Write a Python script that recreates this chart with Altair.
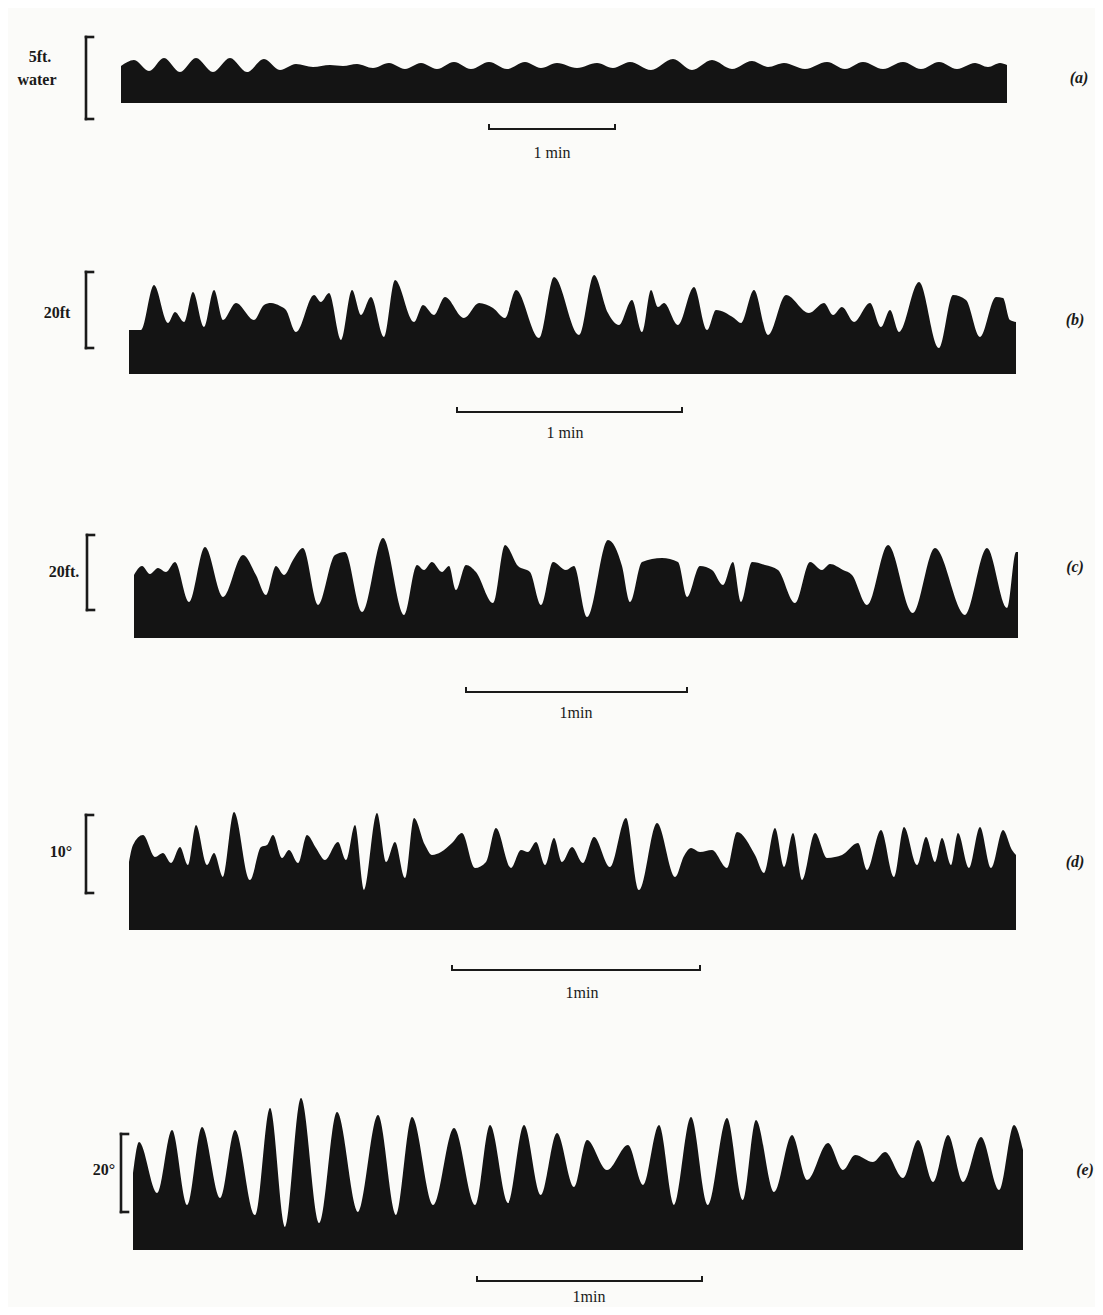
import altair as alt
import pandas as pd

# ---- waveform records (position along record, upper edge of trace) ----
A_X = [121, 134, 149, 164, 180, 196, 213, 230, 247, 264, 280, 296, 313, 330, 343, 357, 373, 389, 405, 421, 437,
       454, 471, 489, 507, 525, 541, 557, 577, 597, 613, 630, 651, 673, 692, 712, 732, 752, 768, 784, 805, 827,
       845, 863, 883, 903, 921, 939, 957, 975, 988, 1000, 1007]
A_TOP = [66, 60, 71, 58, 72, 58, 72, 58, 72, 59, 70, 64, 67, 65, 66, 64, 68, 63, 69, 63, 69,
         62, 69, 62, 69, 62, 68, 63, 68, 63, 68, 62, 70, 59, 70, 60, 69, 61, 67, 63, 69, 62,
         69, 62, 69, 62, 69, 62, 69, 63, 67, 63, 65]
A_BASE = 103

B_X = [129, 141, 154, 168, 175, 184, 193, 204, 214, 223, 236, 254, 264, 271, 280, 286, 296, 314, 321, 329, 341,
       352, 361, 371, 384, 395, 414, 423, 434, 445, 464, 479, 493, 505, 516, 539, 554, 579, 594, 608, 619, 632,
       642, 651, 658, 664, 678, 694, 707, 716, 734, 741, 754, 768, 786, 809, 824, 833, 842, 854, 870, 881, 890,
       899, 919, 939, 953, 966, 980, 996, 1003, 1010, 1016]
B_TOP = [330, 330, 285, 323, 312, 322, 292, 327, 290, 320, 303, 320, 305, 303, 306, 310, 332, 295, 302, 293, 340,
         290, 315, 297, 337, 280, 322, 305, 315, 297, 318, 303, 308, 318, 290, 338, 277, 335, 275, 313, 325, 300,
         332, 290, 307, 303, 325, 287, 330, 310, 318, 323, 290, 335, 295, 313, 303, 315, 307, 322, 303, 327, 310,
         332, 282, 348, 295, 300, 337, 297, 298, 320, 322]
B_BASE = 374

C_X = [134, 142, 150, 158, 166, 175, 189, 205, 223, 243, 256, 266, 276, 284, 293, 303, 318, 335, 345, 362, 383,
       404, 417, 424, 432, 442, 449, 456, 466, 476, 493, 505, 518, 530, 541, 553, 566, 574, 587, 608, 622, 630,
       642, 662, 678, 687, 700, 712, 723, 733, 741, 752, 765, 778, 795, 810, 822, 830, 843, 852, 867, 888, 913,
       935, 965, 987, 1007, 1016, 1018]
C_TOP = [575, 566, 574, 568, 572, 562, 602, 547, 597, 555, 575, 595, 566, 575, 560, 548, 605, 555, 552, 612, 538,
         615, 565, 570, 562, 572, 566, 590, 565, 572, 603, 545, 566, 572, 605, 562, 570, 566, 617, 540, 566, 602,
         562, 558, 562, 597, 566, 570, 585, 562, 602, 562, 565, 570, 603, 562, 570, 564, 570, 575, 605, 545, 613,
         548, 615, 548, 608, 552, 552]
C_BASE = 638

D_X = [129, 133, 143, 155, 163, 171, 180, 188, 196, 207, 214, 223, 234, 250, 261, 267, 273, 282, 289, 298, 307,
       316, 325, 338, 346, 355, 364, 377, 386, 395, 405, 414, 425, 432, 441, 452, 462, 475, 486, 496, 511, 521,
       528, 536, 545, 554, 562, 572, 583, 594, 610, 626, 639, 657, 675, 684, 691, 700, 712, 727, 737, 755, 764,
       775, 784, 793, 802, 815, 827, 835, 842, 858, 867, 881, 894, 904, 917, 926, 935, 942, 951, 958, 969, 980,
       991, 1003, 1012, 1016]
D_TOP = [862, 845, 835, 857, 853, 863, 847, 865, 825, 865, 853, 877, 812, 880, 847, 845, 835, 858, 850, 863, 835,
         848, 860, 842, 860, 825, 890, 813, 862, 842, 878, 818, 845, 855, 852, 843, 833, 868, 862, 828, 868, 850,
         852, 842, 865, 838, 862, 847, 863, 837, 867, 818, 890, 823, 877, 856, 848, 852, 850, 868, 832, 855, 873,
         828, 867, 833, 880, 833, 858, 857, 855, 843, 870, 830, 877, 827, 865, 837, 862, 838, 865, 833, 868, 827,
         868, 830, 850, 855]
D_BASE = 930

E_X = [133, 139, 157, 172, 187, 202, 220, 235, 255, 270, 285, 301, 319, 337, 358, 378, 396, 412, 433, 454, 475,
       490, 508, 524, 541, 557, 574, 587, 607, 628, 643, 659, 674, 691, 708, 727, 743, 756, 774, 792, 807, 828,
       843, 855, 873, 885, 903, 918, 933, 948, 963, 981, 999, 1014, 1023]
E_TOP = [1173, 1142, 1193, 1130, 1205, 1127, 1198, 1130, 1215, 1108, 1227, 1098, 1223, 1112, 1212, 1115, 1215,
         1117, 1205, 1128, 1205, 1125, 1203, 1125, 1195, 1133, 1187, 1140, 1170, 1145, 1185, 1125, 1205, 1117, 1205,
         1118, 1200, 1120, 1192, 1135, 1180, 1143, 1170, 1155, 1162, 1152, 1178, 1140, 1182, 1135, 1182, 1137, 1190,
         1125, 1150]
E_BASE = 1250

PANELS = ["a", "b", "c", "d", "e"]
WAVE_X = [A_X, B_X, C_X, D_X, E_X]
WAVE_TOP = [A_TOP, B_TOP, C_TOP, D_TOP, E_TOP]
WAVE_BASE = [A_BASE, B_BASE, C_BASE, D_BASE, E_BASE]

# ---- scale brackets, time bars and texts ----
SCALE_TEXT = [["5ft.", "water"], ["20ft"], ["20ft."], ["10°"], ["20°"]]
SCALE_TEXT_X = [[40, 37], [57], [64], [61], [104]]
SCALE_TEXT_Y = [[57, 80], [313], [572], [852], [1170]]
BRACKET_X = [86, 86, 87, 86, 121]
BRACKET_TOP = [37, 272, 535, 815, 1134]
BRACKET_BOTTOM = [119, 348, 610, 893, 1212]

PANEL_LABEL = ["(a)", "(b)", "(c)", "(d)", "(e)"]
PANEL_LABEL_X = [1079, 1075, 1075, 1075, 1085]
PANEL_LABEL_Y = [78, 320, 567, 862, 1170]

MIN_BAR_LEFT = [489, 457, 466, 452, 477]
MIN_BAR_RIGHT = [615, 682, 687, 700, 702]
MIN_BAR_Y = [129, 412, 692, 970, 1281]
MIN_TEXT = ["1 min", "1 min", "1min", "1min", "1min"]
MIN_TEXT_X = [552, 565, 576, 582, 589]
MIN_TEXT_Y = [153, 433, 713, 993, 1297]

INK = "#141414"
PAPER = "#fbfbf9"

# ---- tables ----
wave_rows = []
for p, xs_, ts_, b in zip(PANELS, WAVE_X, WAVE_TOP, WAVE_BASE):
    for x, t in zip(xs_, ts_):
        wave_rows.append({"panel": p, "x": x, "top": t, "base": b})
wave = pd.DataFrame(wave_rows)

seg_rows = []
HOOK = 7
TICK = 4
for i in range(5):
    bx, bt, bb = BRACKET_X[i], BRACKET_TOP[i], BRACKET_BOTTOM[i]
    seg_rows += [
        {"x": bx, "y": bt, "x2": bx, "y2": bb, "w": 2.6},
        {"x": bx, "y": bt, "x2": bx + HOOK, "y2": bt, "w": 2.6},
        {"x": bx, "y": bb, "x2": bx + HOOK, "y2": bb, "w": 2.6},
    ]
    l, r, y = MIN_BAR_LEFT[i], MIN_BAR_RIGHT[i], MIN_BAR_Y[i]
    seg_rows += [
        {"x": l, "y": y, "x2": r, "y2": y, "w": 2.0},
        {"x": l, "y": y, "x2": l, "y2": y - TICK, "w": 2.0},
        {"x": r, "y": y, "x2": r, "y2": y - TICK, "w": 2.0},
    ]
segs = pd.DataFrame(seg_rows)

scale_rows = []
for txts, xs_, ys_ in zip(SCALE_TEXT, SCALE_TEXT_X, SCALE_TEXT_Y):
    for t, x, y in zip(txts, xs_, ys_):
        scale_rows.append({"x": x, "y": y, "t": t})
scale_df = pd.DataFrame(scale_rows)
panel_df = pd.DataFrame({"x": PANEL_LABEL_X, "y": PANEL_LABEL_Y, "t": PANEL_LABEL})
min_df = pd.DataFrame({"x": MIN_TEXT_X, "y": MIN_TEXT_Y, "t": MIN_TEXT})

# page coordinates of the scanned plate: x 8..1095, y 8..1307
XS = alt.Scale(domain=[8, 1095], nice=False, zero=False)
YS = alt.Scale(domain=[8, 1307], nice=False, zero=False, reverse=True)

area = alt.Chart(wave).mark_area(interpolate="monotone", color=INK, opacity=1).encode(
    x=alt.X("x:Q", scale=XS, axis=None),
    y=alt.Y("top:Q", scale=YS, axis=None),
    y2="base:Q",
    detail="panel:N",
)

rules = alt.Chart(segs).mark_rule(color="#1a1a1a", strokeCap="square").encode(
    x=alt.X("x:Q", scale=XS, axis=None),
    y=alt.Y("y:Q", scale=YS, axis=None),
    x2="x2:Q",
    y2="y2:Q",
    strokeWidth=alt.StrokeWidth("w:Q", scale=None),
)

scale_txt = alt.Chart(scale_df).mark_text(
    font="Liberation Serif", fontSize=16, fontWeight="bold", color="#1a1a1a", baseline="middle", align="center"
).encode(x=alt.X("x:Q", scale=XS, axis=None), y=alt.Y("y:Q", scale=YS, axis=None), text="t:N")

panel_txt = alt.Chart(panel_df).mark_text(
    font="Liberation Serif", fontSize=16, fontWeight="bold", fontStyle="italic", color="#1a1a1a",
    baseline="middle", align="center"
).encode(x=alt.X("x:Q", scale=XS, axis=None), y=alt.Y("y:Q", scale=YS, axis=None), text="t:N")

min_txt = alt.Chart(min_df).mark_text(
    font="Liberation Serif", fontSize=16, color="#1a1a1a", baseline="middle", align="center"
).encode(x=alt.X("x:Q", scale=XS, axis=None), y=alt.Y("y:Q", scale=YS, axis=None), text="t:N")

chart = alt.layer(area, rules, scale_txt, panel_txt, min_txt).properties(
    width=1087, height=1299, autosize="none", padding=0, background=PAPER
).configure_view(stroke=None)

chart.save("out.html", embed_options={"renderer": "svg", "actions": False})
